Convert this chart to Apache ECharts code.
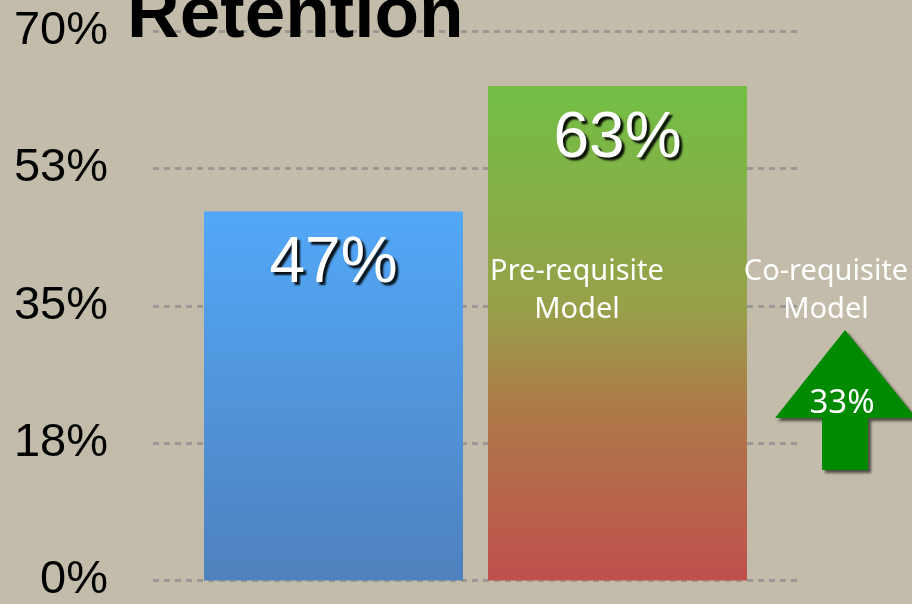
<!DOCTYPE html>
<html>
<head>
<meta charset="utf-8">
<script src="https://cdn.jsdelivr.net/npm/echarts@6/dist/echarts.min.js"></script>
<style>
  html, body { margin: 0; padding: 0; background: #c3bcaa; }
  #chart { width: 912px; height: 604px; }
</style>
</head>
<body>
<div id="chart"></div>
<script>
// data
var categories = ['Retention']
var preRequisite = [47]
var coRequisite = [63]
var increase = [33]
var yTicks = [0, 17.5, 35, 52.5, 70]

var myChart = echarts.init(document.getElementById('chart'))

var shadowText = {
  color: '#fff',
  fontSize: 64,
  fontFamily: 'Liberation Sans',
  textShadowColor: 'rgba(0,0,0,0.9)',
  textShadowOffsetX: 3,
  textShadowOffsetY: 3,
  textShadowBlur: 2
}

myChart.setOption({
  backgroundColor: '#c3bcaa',
  animation: false,
  grid: { left: 153, right: 114, top: 31, bottom: 22 },
  xAxis: {
    type: 'category',
    data: categories,
    axisLine: { show: false },
    axisTick: { show: false },
    axisLabel: { show: false }
  },
  yAxis: {
    type: 'value',
    min: yTicks[0],
    max: yTicks[yTicks.length - 1],
    interval: yTicks[1] - yTicks[0],
    axisLine: { show: false },
    axisTick: { show: false },
    axisLabel: {
      margin: 45,
      fontSize: 47,
      fontFamily: 'Liberation Sans',
      color: '#000',
      padding: [4, 0, 0, 0],
      formatter: function (v) { return Math.round(v) + '%' }
    },
    splitLine: {
      lineStyle: { color: '#9a9996', width: 3, type: [6, 5] }
    }
  },
  series: [
    {
      name: 'Pre-requisite Model',
      type: 'bar',
      data: preRequisite,
      barWidth: 259,
      barGap: '9.65%',
      itemStyle: {
        color: new echarts.graphic.LinearGradient(0, 0, 0, 1, [
          { offset: 0, color: '#52a8f8' },
          { offset: 1, color: '#4f81bd' }
        ])
      },
      label: Object.assign({
        show: true,
        position: 'insideTop',
        distance: 21,
        formatter: '{c}%'
      }, shadowText)
    },
    {
      name: 'Co-requisite Model',
      type: 'bar',
      data: coRequisite,
      barWidth: 259,
      itemStyle: {
        color: new echarts.graphic.LinearGradient(0, 0, 0, 1, [
          { offset: 0, color: '#72bf44' },
          { offset: 0.45, color: '#98a04a' },
          { offset: 0.65, color: '#ad7a48' },
          { offset: 1, color: '#c0504d' }
        ])
      },
      label: Object.assign({
        show: true,
        position: 'insideTop',
        distance: 21,
        formatter: '{c}%'
      }, shadowText)
    }
  ],
  graphic: [
    {
      type: 'text',
      left: 127,
      top: -20,
      z: 10,
      style: {
        text: 'Retention',
        fontSize: 73,
        fontWeight: 'bold',
        fontFamily: 'Liberation Sans',
        fill: '#000'
      }
    },
    {
      type: 'text',
      x: 577,
      y: 291,
      z: 10,
      style: {
        text: 'Pre-requisite\nModel',
        fontSize: 29,
        lineHeight: 38,
        fontFamily: 'Noto Sans',
        fill: '#fff',
        align: 'center',
        verticalAlign: 'middle'
      }
    },
    {
      type: 'text',
      x: 826,
      y: 291,
      z: 10,
      style: {
        text: 'Co-requisite\nModel',
        fontSize: 29,
        lineHeight: 38,
        fontFamily: 'Noto Sans',
        fill: '#fff',
        align: 'center',
        verticalAlign: 'middle'
      }
    },
    {
      // up arrow
      type: 'polygon',
      z: 9,
      shape: {
        points: [[845, 330], [916, 418], [868, 418], [868, 470], [822, 470], [822, 418], [775, 418]]
      },
      style: {
        fill: '#008a00',
        shadowColor: 'rgba(0,0,0,0.6)',
        shadowBlur: 3,
        shadowOffsetX: 3,
        shadowOffsetY: 3
      }
    },
    {
      type: 'text',
      x: 842,
      y: 404,
      z: 11,
      style: {
        text: increase[0] + '%',
        fontSize: 33,
        fontFamily: 'Noto Sans',
        fill: '#fff',
        align: 'center',
        verticalAlign: 'middle'
      }
    }
  ]
})
</script>
</body>
</html>
